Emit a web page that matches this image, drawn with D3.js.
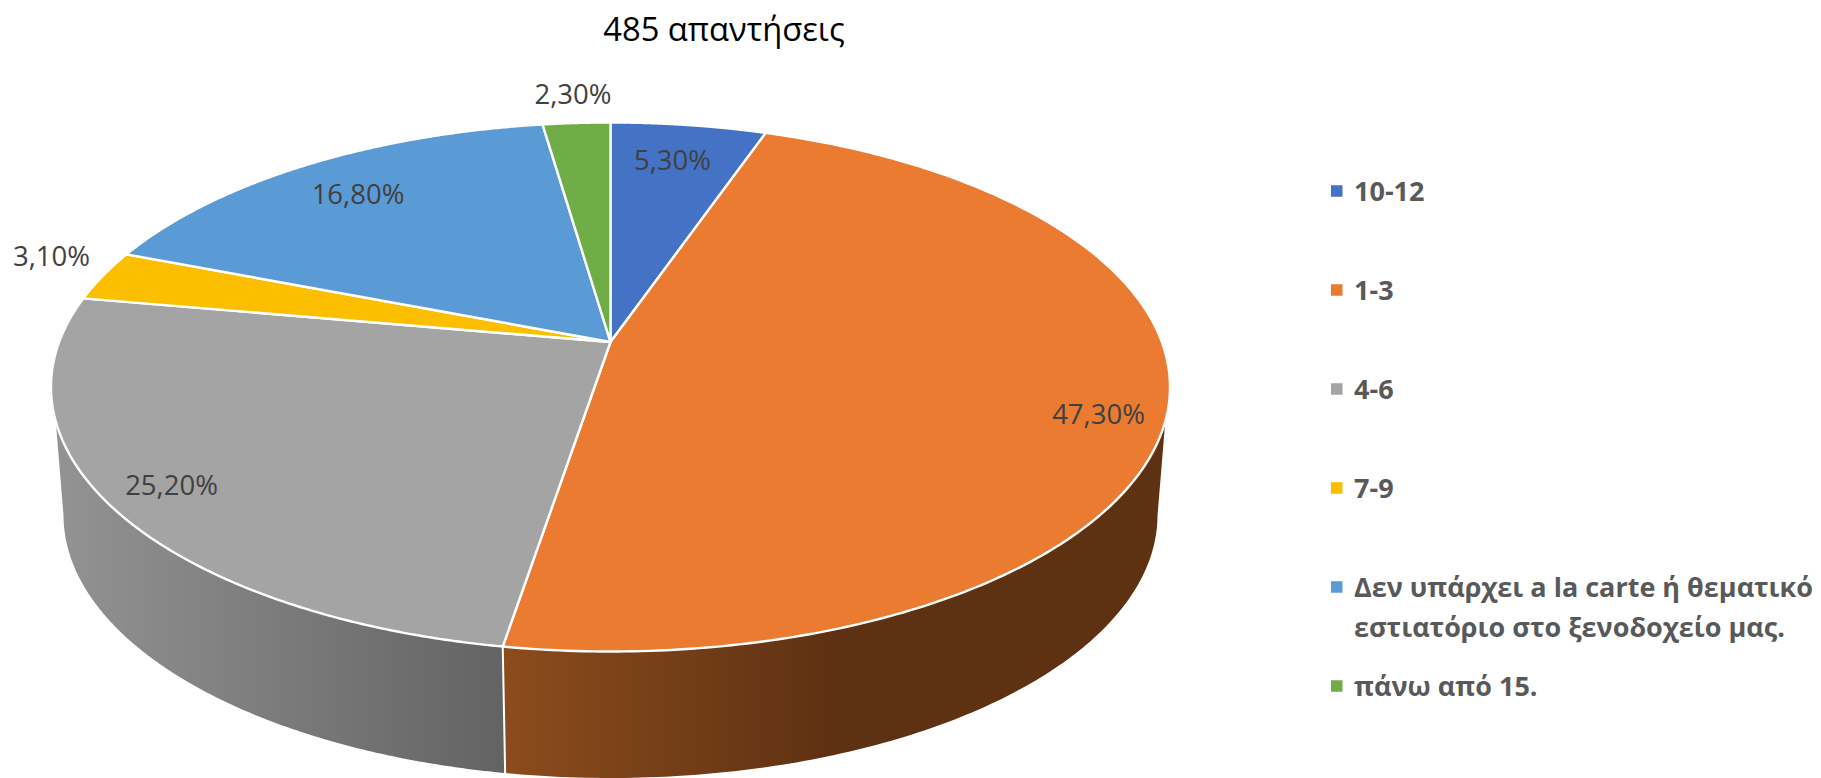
<!DOCTYPE html>
<html lang="el">
<head>
<meta charset="utf-8">
<style>
html,body{margin:0;padding:0;background:#fff;overflow:hidden}
svg{display:block}
text{font-family:"Open Sans",sans-serif}
</style>
<script src="https://cdn.jsdelivr.net/npm/d3@7"></script>
</head>
<body>
<svg id="chart" width="1821" height="778"></svg>
<script>
// ---- data ----
const titleText = "485 απαντήσεις";
const categories = ["10-12", "1-3", "4-6", "7-9", "Δεν υπάρχει a la carte ή θεματικό εστιατόριο στο ξενοδοχείο μας.", "πάνω από 15."];
const values = [5.3, 47.3, 25.2, 3.1, 16.8, 2.3];
const valueLabels = ["5,30%", "47,30%", "25,20%", "3,10%", "16,80%", "2,30%"];
const colors = ["#4472C4", "#EB7B31", "#A4A4A4", "#FCBF00", "#5B9BD5", "#70AD47"];

// ---- layout ----
const W = 1821, H = 778;
const topX = d3.scaleLinear([-1, 1], [51, 1170]);
const topY = d3.scaleLinear([-1, 1], [651.5, 122.5]);
const baseX = d3.scaleLinear([-1, 1], [63.5, 1157.5]);
const baseY = d3.scaleLinear([-1, 1], [778, 252]);
const hubY = 342;                               // where the pie's centre lands on the tilted top
const labelCentres = [[672.5,160],[1098.5,414],[171.5,485],[51.5,256],[358,194],[573,94]];
const legendRows = [[191],[290],[389],[488],[587,627],[686]];
const legendLines = [["10-12"],["1-3"],["4-6"],["7-9"],["Δεν υπάρχει a la carte ή θεματικό","εστιατόριο στο ξενοδοχείο μας."],["πάνω από 15."]];

// perspective: projective map of the unit disc to itself, sending 0 to (0,t)
const t = topY.invert(hubY);
const s = Math.sqrt(1 - t * t);
function disc(theta, r = 1) {
  const X = r * Math.sin(theta), Y = r * Math.cos(theta);
  const w = 1 + t * Y;
  return [X * s / w, (Y + t) / w];
}
const onTop = ([u, v]) => [topX(u), topY(v)];
const onBase = ([u, v]) => [baseX(u), baseY(v)];

const arcs = d3.pie().sort(null).value(d => d)(values);
const svg = d3.select("#chart");
const line = d3.line();
function sample(a, b, n = 240) { return d3.range(n + 1).map(i => a + (b - a) * i / n); }

// ---- side-wall gradients ----
const defs = svg.append("defs");
function grad(id, x1, x2, c1, c2) {
  const g = defs.append("linearGradient").attr("id", id).attr("gradientUnits", "userSpaceOnUse")
    .attr("x1", x1).attr("x2", x2).attr("y1", 0).attr("y2", 0);
  g.append("stop").attr("offset", 0).attr("stop-color", c1);
  g.append("stop").attr("offset", 1).attr("stop-color", c2);
}
grad("sideOrange", 505, 832, "#8C4C1C", "#5E3113");
grad("sideGrey", 55, 505, "#939393", "#636363");
const sideFill = {1: "url(#sideOrange)", 2: "url(#sideGrey)"};

// ---- side walls (only the front of the cylinder) ----
const walls = svg.append("g");
arcs.forEach((d, i) => {
  if (!sideFill[i]) return;
  const th = sample(d.startAngle, d.endAngle);
  const upper = th.filter(a => disc(a)[1] <= -0.125).map(a => onTop(disc(a)));
  const lower = th.filter(a => disc(a)[1] <= 0).map(a => onBase(disc(a)));
  walls.append("path")
    .attr("d", line(upper.concat(lower.reverse())) + "Z")
    .attr("fill", sideFill[i]);
});
// divider on the wall at the slice boundary
walls.append("path")
  .attr("d", line([onTop(disc(arcs[1].endAngle)), onBase(disc(arcs[1].endAngle))]))
  .attr("stroke", "#fff").attr("stroke-width", 2).attr("fill", "none");

// ---- top surface ----
const hub = onTop(disc(0, 0));
svg.append("g").selectAll("path").data(arcs).join("path")
  .attr("d", d => line([hub].concat(sample(d.startAngle, d.endAngle).map(a => onTop(disc(a))))) + "Z")
  .attr("fill", (d, i) => colors[i])
  .attr("stroke", "#fff").attr("stroke-width", 2.4).attr("stroke-linejoin", "round");

// ---- value labels ----
svg.append("g").selectAll("text").data(valueLabels).join("text")
  .attr("x", (d, i) => labelCentres[i][0])
  .attr("y", (d, i) => labelCentres[i][1])
  .attr("dy", "0.36em")
  .attr("text-anchor", "middle")
  .attr("font-size", 27.5)
  .attr("fill", "#404040")
  .text(d => d);

// ---- title ----
svg.append("text").attr("x", 724).attr("y", 41).attr("text-anchor", "middle")
  .attr("font-size", 32.7).attr("fill", "#000").text(titleText);

// ---- legend ----
const legend = svg.append("g").selectAll("g").data(categories).join("g");
legend.append("rect")
  .attr("x", 1331).attr("width", 11.5).attr("height", 11.5)
  .attr("y", (d, i) => legendRows[i][0] - 5.75)
  .attr("fill", (d, i) => colors[i]);
legend.each(function (d, i) {
  d3.select(this).selectAll("text").data(legendLines[i]).join("text")
    .attr("x", 1354)
    .attr("y", (l, j) => legendRows[i][j])
    .attr("dy", "0.36em")
    .attr("font-size", 27)
    .attr("font-weight", 700)
    .attr("fill", "#595959")
    .text(l => l);
});
</script>
</body>
</html>
